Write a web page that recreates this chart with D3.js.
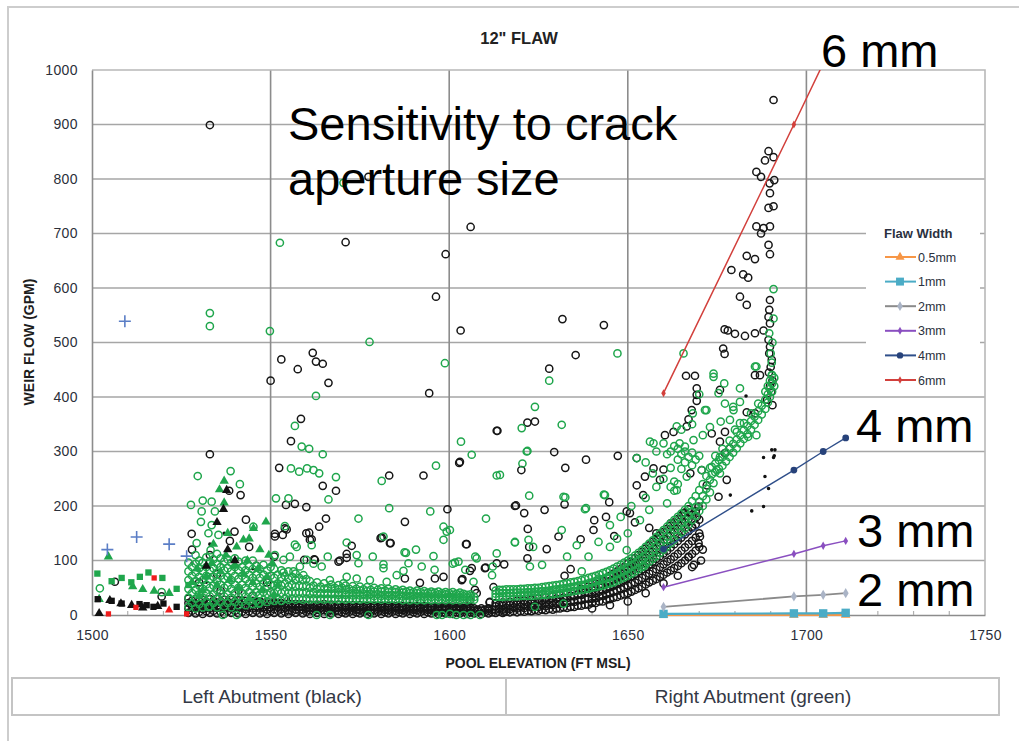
<!DOCTYPE html>
<html lang="en">
<head>
<meta charset="UTF-8">
<title>12" FLAW - Weir flow vs pool elevation</title>
<script src="https://d3js.org/d3.v7.min.js"></script>
<style>
  body { margin: 0; background: #fff; }
  svg { display: block; font-family: "Liberation Sans", Arial, sans-serif; }
</style>
</head>
<body>
<svg width="1019" height="741"></svg>
<script>
// ---- axis ticks ----
const xTicks = [1500, 1550, 1600, 1650, 1700, 1750];
const yTicks = [0, 100, 200, 300, 400, 500, 600, 700, 800, 900, 1000];

// ---- left abutment (black open circles) ----
const leftCircles = [
  [1533,899],[1571,684],[1599,662],[1606,712],[1596.3,584],[1603.2,522],[1577.4,804],
  [1553,469],[1550,430],[1557.6,451],[1561.8,481],[1562.7,465],[1564.6,461],[1566.2,426],[1558.5,360],
  [1555.7,319],[1533,295],[1552.4,270],[1564.6,237],[1568.3,228],[1554.3,202],[1556.8,204],[1560,198],
  [1594.4,407],[1613.3,338],[1602.8,279],[1592.8,256],[1583.2,256],[1599.5,194],[1587.6,171],[1618.4,200],
  [1580.8,141],[1583.6,132],[1572.7,127],[1604.9,130],[1613.3,95],[1569,98],[1571.3,105],[1603.5,64],
  [1610.2,87],[1605.8,81],[1598.4,70],[1587.6,67],[1538.4,228],[1541.6,220],[1543.1,175],[1539.9,153],
  [1527.9,149],[1538.6,136],[1563.6,162],[1554,159],[1551.2,149],[1553.4,147],[1560,150],[1561,138],
  [1565.5,177],[1559.4,101],[1562.4,101],[1607.2,46],[1611.4,24],[1551.2,144],[1554.5,157],[1560.8,151],
  [1561.5,139],[1581.1,142],[1583.4,132],[1571.3,112],[1569.4,100],[1562.2,102],[1551,107],[1591.8,59],[1596,67],
  [1631.7,543],[1643.3,532],[1635.4,477],[1628,452],[1621.9,353],[1624,355],[1613.5,338],[1603,281],
  [1629.4,299],[1632.5,270],[1638.3,285],[1647.2,292],[1620.2,266],[1618.7,201],[1621,187],[1626.7,193],
  [1632.3,203],[1644.8,207],[1649.7,190],[1643.9,180],[1640.6,174],[1622,158],[1630.6,144],[1636.8,139],
  [1640.4,156],[1646.2,145],[1604.7,130],[1622.4,125],[1627.3,121],[1621.9,104],[1615.4,93],[1610,86],
  [1606.3,86],[1603.7,66],[1607.7,40],[1634,84],[1632.3,72],[1612.4,51],[1611.3,23],[1615.4,6],[1605.8,27],
  [1637.4,46],[1640.7,52],[1643.2,64],[1647.2,70],[1651.2,95],[1652.5,238],
  [1690.8,945],[1689.4,851],[1688.4,834],[1690.8,840],[1686,813],[1687.3,804],[1689.7,792],[1691,798],
  [1689.8,774],[1689.4,747],[1690.8,750],[1686,713],[1687.3,700],[1688,710],[1689.8,713],[1689.4,679],
  [1689.8,662],[1683.3,659],[1685.6,653],[1679,633],[1682.3,625],[1683.7,619],[1681.4,584],[1683.3,569],
  [1689.8,578],[1689.6,560],[1689.4,547],[1689.8,535],[1677.1,524],[1678,522],[1680,516],[1682.8,512],
  [1685.6,517],[1688,522],[1676.7,489],[1677.1,479],[1689.4,505],[1689.8,492],[1689.6,480],[1690.3,468],
  [1666.3,439],[1668.8,439],[1685.6,440],[1687,440],[1690,455],[1689.5,445],[1690.5,430],[1689.8,420],
  [1690.2,410],[1689,395],[1690.5,385],
  [1669.3,416],[1669.3,404],[1669.3,393],[1667.9,376],[1667,359],[1666.5,346],[1662.8,336],[1660.4,330],
  [1675.8,413],[1683.3,372],[1685.6,370],[1673.5,333],[1677.2,336],[1675.8,318],[1678.6,306],[1677.2,297],
  [1652.5,288],[1657.2,269],[1660,267],[1654.8,254],[1659,248],[1654.3,220],[1675.4,217],[1677.7,248],
  [1672.1,238],[1667.5,260],[1670.7,266],[1665.6,187],[1669.3,180],[1670.2,144],[1669.8,132],[1667,107],
  [1668,162],[1669.8,199],[1650.6,187],[1652,170],[1656,160],[1671,120],[1670.5,100],[1668.5,92],
  [1650,25],[1655,40],[1660,58],[1664,72],[1668,88],[1645,18],[1640,12],[1658,150],[1662,168],
  [1506.4,61],[1519.5,34],[1530,60],[1535,75],[1541,45],[1546,90],[1549,60],[1533,110],[1544,125],
  [1528,120],[1536,45],[1545,35]
];

// dense black band: [elevation, [flows]]
const leftBand = [
  [1527,[4,12,22,30]],[1528,[8,17,26]],[1529,[3,13,21,29]],[1530,[6,16,25]],[1531,[2,11,20,28]],
  [1532,[7,15,24]],[1533,[4,12,21,29]],[1534,[8,17,26]],[1535,[3,13,22,30]],[1536,[6,16,25]],
  [1537,[2,11,20,28]],[1538,[7,15,24]],[1539,[4,12,21,28]],[1540,[8,17,25]],[1541,[3,13,22,27]],
  [1542,[6,16,24]],[1543,[2,11,19,26]],[1544,[7,15,23]],[1545,[4,12,20,26]],[1546,[8,16,23]],
  [1547,[3,12,19,25]],[1548,[6,15,22]],[1549,[2,10,18,24]],[1550,[7,14,21]],[1551,[4,11,18,23]],
  [1552,[8,15,21]],[1553,[3,11,17,22]],[1554,[6,13,20]],[1555,[2,9,16,21]],[1556,[7,13,19]],
  [1557,[4,10,16,20]],[1558,[8,14,19]],[1559,[3,10,15,20]],[1560,[6,12,18]],[1561,[2,9,14,19]],
  [1562,[7,12,17]],[1563,[4,10,15,19]],[1564,[8,13,18]],[1565,[2,9,15,20]],[1566,[6,12,17]],
  [1567,[3,9,15,19]],[1568,[7,12,17]],[1569,[2,8,14,19]],[1570,[5,11,16]],[1571,[3,9,14,18]],
  [1572,[6,11,16]],[1573,[2,8,13,18]],[1574,[5,10,15]],[1575,[3,9,14,18]],[1576,[6,11,16]],
  [1577,[2,8,13,17]],[1578,[5,10,15]],[1579,[3,9,14,17]],[1580,[6,11,15]],[1581,[2,8,13,17]],
  [1582,[5,10,15]],[1583,[3,9,13,17]],[1584,[6,11,15]],[1585,[2,8,13,16]],[1586,[5,10,14]],
  [1587,[3,9,13,16]],[1588,[6,11,15]],[1589,[2,8,12,16]],[1590,[5,10,14]],[1591,[3,9,13,16]],
  [1592,[6,11,14]],[1593,[2,8,12,16]],[1594,[5,10,14]],[1595,[3,9,13,15]],[1596,[6,10,14]],
  [1597,[2,8,12,15]],[1598,[5,10,14]],[1599,[3,9,12,15]],[1600,[6,10,14]],[1601,[2,8,12,15]],
  [1602,[5,10,13]],[1603,[3,8,12,15]],[1604,[6,10,13]],[1605,[2,8,12,14]],[1606,[5,9,13]],
  [1607,[3,8,12]],[1608,[6,10]],[1609,[2,8,12]],[1610,[5,10]],[1611,[3,8,12]],[1612,[5,10]],
  [1613,[4,10,16,22]],[1614,[6,12,19]],[1615,[4,10,17,23]],[1616,[6,13,20]],[1617,[5,11,18,24]],
  [1618,[7,14,21]],[1619,[5,12,19,26]],[1620,[7,15,22]],[1621,[6,13,20,27]],[1622,[8,16,23]],
  [1623,[7,14,21,28]],[1624,[9,17,25]],[1625,[8,15,22,30]],[1626,[10,18,26]],[1627,[9,16,24,32]],
  [1628,[11,19,28]],[1629,[10,18,26,34]],[1630,[12,21,30]],[1631,[12,20,28,37]],[1632,[14,23,32]],
  [1633,[13,22,31,40]],[1634,[15,25,35]],[1635,[15,24,34,44]],[1636,[17,27,38]],[1637,[17,27,37,48]],
  [1638,[19,30,41]],[1639,[19,30,41,52]],[1640,[22,30,38,46]],[1641,[22,31,40,50,57]],
  [1642,[25,34,43,52]],[1643,[25,35,45,55,62]],[1644,[28,38,48,58,68]],[1645,[29,40,51,62,72]],
  [1646,[32,43,54,65,76]],[1647,[33,45,57,69,80]],[1648,[36,48,60,72,84]],[1649,[38,51,64,77,88]],
  [1650,[40,54,68,82,94]],[1651,[43,57,71,85,98]],[1652,[46,60,75,90,104]],[1653,[49,64,80,95,110]],
  [1654,[52,68,84,100,116]],[1655,[56,72,88,105,122]],[1656,[60,76,93,110,128]],
  [1657,[63,80,98,116,134]],[1658,[66,84,103,122,140]],[1659,[70,88,108,128,146]],
  [1660,[74,93,113,133,152]],[1661,[78,98,118,138,158]],[1662,[82,102,124,145,164]],
  [1663,[86,107,130,152,170]],[1664,[90,112,136,158,176]],[1665,[95,118,142,164,182]],
  [1666,[100,124,148,170,188]],[1667,[106,130,154,176,194]],[1668,[112,136,160,184]],
  [1669,[118,142,166,190]],[1670,[125,150,175]]
];

// ---- right abutment (green open circles) ----
const rightCircles = [
  [1533,554],[1533,530],[1552.6,683],[1549.8,521],[1570.4,793],[1577.7,501],[1598.8,462],[1562.7,402],
  [1556.8,347],[1558.7,309],[1560.8,305],[1564.6,295],[1555.7,269],[1558,263],[1560.2,269],[1562,266],
  [1563.6,260],[1568.3,253],[1566.2,212],[1551.5,214],[1555,214],[1529.6,255],[1538.8,264],[1541.4,240],
  [1531,210],[1533.5,208],[1527.7,202],[1530.7,190],[1534.4,190],[1530.5,171],[1533.5,165],[1532.6,150],
  [1535.4,147],[1529.3,132],[1533.2,119],[1545.2,162],[1581.1,246],[1583.2,196],[1594.7,190],[1596.3,274],
  [1574.6,177],[1571.3,133],[1581.6,144],[1610.3,177],[1603.3,318],[1606.3,294],[1613.3,256],[1618.4,133],
  [1613.3,113],[1607.7,104],[1601.6,96],[1598.4,162],[1598.4,138],[1587.5,115],[1590.7,120],[1595.6,108],
  [1578.6,107],[1574.6,95],[1566,107],[1556.8,129],[1561.5,128],[1581.6,86],[1588.6,95],[1592.3,89],
  [1595.9,83],[1604.5,83],[1606.8,61],[1612.2,89],[1554,163],[1599.3,153],[1557.3,125],[1574.1,110],
  [1587.9,114],[1581.6,93],[1601,94],[1587.2,81],
  [1536.6,0],[1540.5,0],[1562.9,0],[1566.6,0],[1577.4,0],[1596.5,0],[1598,0],[1600.2,2],[1602,0],
  [1604,0],[1606,0],[1608.6,0],[1532.6,15],[1546.6,21],
  [1551.2,110],[1553.6,101],[1555.4,107],[1558.2,89],[1560.1,101],[1562,94],[1564.3,89],[1553.6,78],
  [1556.4,80],[1559.2,73],[1566.6,64],[1570.4,58],[1574.1,67],[1577.8,64],[1582.5,61],[1585.3,73],[1571.3,70],
  [1502.2,49],[1519.5,42],
  [1647.1,480],[1628,430],[1624,382],[1631.5,349],[1620.3,343],[1621.7,300],[1652.5,288],[1657.2,315],
  [1660,315],[1668.4,321],[1674,443],[1681.4,416],[1686,456],[1679.6,376],[1671.6,376],[1668.2,370],
  [1663.7,346],[1666,309],[1670.7,266],[1675.8,260],[1674,242],[1643.6,220],[1638.3,196],[1632,217],
  [1622.4,219],[1618.4,134],[1614.2,257],[1631.5,156],[1623.5,125],[1633,107],[1641.8,67],[1637.1,80],
  [1649.7,119],[1654.4,89],[1622.2,138],[1622.6,89],[1612,73],[1626,92],[1635.7,128],[1641.8,134],
  [1639,107],[1645,125],[1632,21],[1624,15],[1638,194],[1632.5,216],[1643.3,221],[1600.2,156],[1602.6,98],
  [1607.3,107],[1620.5,278],[1621.9,301],
  [1690.8,598],[1690.8,544],[1689.6,517],[1665.6,480],[1685.6,456],[1690.3,463],[1690.3,440],[1690,480],
  [1690.5,500],
  [1656.2,318],[1672,376],[1674,437],[1675.4,407],[1677.2,388],[1679.5,382],[1681.4,391],[1678.6,358],
  [1681.4,352],[1683.7,327],[1675.8,290],[1674.9,266],[1671,330],[1673,345],[1676,355],[1665,340],
  [1668,350],[1658,300],[1655,280],[1662,270],[1680,340],[1686,330],[1670,405],[1677,425],
  [1656,193],[1653.4,174],[1661,205],[1663.7,229],[1666.5,254],[1650,150],[1647,140],[1645,165],
  [1648,180],[1651,200],[1655,215],[1658,235],[1660,250],[1657,260],[1668,275],[1665,268],
  [1662,300],[1663,310],[1664,305],[1665,295],[1666,300],[1667,290],[1668,298],[1669,285],[1670,292],
  [1664,285],[1666,280],[1662,235],[1663,245],[1664,240],[1663,228],[1661,295],[1664.5,315]
];

// dense green bands: [elevation, [flows]]
const rightBand = [
  [1527,[15,32,48,64,80,96]],[1528,[22,40,56,72,88]],[1529,[12,30,46,62,78,94,110]],
  [1530,[20,38,54,70,86,100]],[1531,[14,32,48,64,80,96]],[1532,[24,40,56,72,88,106]],
  [1533,[16,34,50,66,82,98]],[1534,[22,38,54,70,86,102]],[1535,[14,30,46,62,78,94,112]],
  [1536,[24,40,56,72,88,104]],[1537,[16,34,50,66,82,98]],[1538,[22,38,54,70,86,102]],
  [1539,[14,32,48,64,80,96]],[1540,[24,40,56,72,88,104]],[1541,[18,34,50,66,82,98]],
  [1542,[24,40,56,72,88]],[1543,[18,34,50,66,82,100]],[1544,[26,42,58,74,90]],
  [1545,[20,36,52,68,84,100]],[1546,[26,42,58,74,90]],[1547,[22,38,52,68,84]],[1548,[28,42,58,74,92]],
  [1549,[24,38,52,66,82]],[1550,[28,42,56,72,88]],[1551,[26,40,54,68,84]],[1552,[30,44,58,74]],
  [1553,[26,40,54,68,82]],[1554,[30,44,58,72]],[1555,[28,40,52,66,80]],[1556,[30,42,56,70]],
  [1557,[28,40,52,64,76]],[1558,[30,42,54,68]],[1559,[28,40,52,64]],[1560,[30,42,54,66]],
  [1561,[28,38,50,62]],[1562,[30,42,54]],[1563,[28,38,48,60]],[1564,[30,40,52]],[1565,[28,38,48,58]],
  [1566,[30,40,50]],[1567,[28,38,48,56]],[1568,[30,40,50]],[1569,[28,37,47,55]],[1570,[30,40,50]],
  [1571,[28,37,46,54]],[1572,[30,39,48]],[1573,[28,36,45,53]],[1574,[30,39,48]],[1575,[28,36,45,52]],
  [1576,[30,38,47]],[1577,[28,36,44,51]],[1578,[30,38,46]],[1579,[28,35,43,50]],[1580,[30,38,46]],
  [1581,[28,35,43,49]],[1582,[30,37,45]],[1583,[28,35,42,48]],[1584,[30,37,44]],[1585,[28,35,42,47]],
  [1586,[30,37,44]],[1587,[27,34,41,46]],[1588,[29,36,43]],[1589,[27,34,40,45]],[1590,[29,36,42]],
  [1591,[27,33,40,45]],[1592,[29,35,42]],[1593,[27,33,39,44]],[1594,[29,35,41]],[1595,[27,33,39,43]],
  [1596,[29,35,41]],[1597,[27,33,38,43]],[1598,[29,35,40]],[1599,[27,32,38,42]],[1600,[29,34,40]],
  [1601,[27,32,37,42]],[1602,[29,34,39]],[1603,[27,32,37,41]],[1604,[29,34,39]],[1605,[27,32,37]],
  [1606,[29,34,38]],[1607,[28,33]],
  [1613,[33,39,45]],[1614,[33,40,46]],[1615,[33,40,46]],[1616,[34,40,47]],[1617,[34,40,47]],
  [1618,[34,41,47]],[1619,[34,41,47]],[1620,[35,41,48]],[1621,[35,41,48]],[1622,[35,42,49]],
  [1623,[35,42,49]],[1624,[36,43,50]],[1625,[36,43,50]],[1626,[37,44,51]],[1627,[37,44,52]],
  [1628,[38,45,53]],[1629,[38,46,54]],[1630,[39,47,55]],[1631,[40,48,56]],[1632,[41,49,57]],
  [1633,[42,50,58]],[1634,[43,51,60]],[1635,[44,52,61]],[1636,[45,54,62]],[1637,[46,55,64]],
  [1638,[47,56,66]],[1639,[48,58,68]],[1640,[50,60,70]],[1641,[51,62,72]],[1642,[53,64,74]],
  [1643,[54,66,77]],[1644,[56,68,79]],[1645,[58,70,82]],[1646,[60,73,85]],[1647,[63,76,89]],
  [1648,[66,79,92]],[1649,[69,82,96]],[1650,[72,86,100]],[1651,[76,90,104]],[1652,[80,94,109]],
  [1653,[84,99,114]],[1654,[88,104,119]],[1655,[93,109,125]],[1656,[98,114,131]],[1657,[103,120,137]],
  [1658,[108,126,143]],[1659,[114,132,150]],[1660,[120,138,156]],[1661,[126,144,162]],
  [1662,[132,150,168]],[1663,[138,156,174]],[1664,[145,162,180]],[1665,[152,168,186]],
  [1666,[159,175,193]],[1667,[166,182,200]],[1668,[174,190,209]],[1669,[182,198,218]],
  [1670,[191,208,229]],[1671,[200,218,240]],[1672,[212,232,255]],[1673,[225,248,270]],
  [1673.5,[258,272]],[1674.5,[262,278,292]],[1675.5,[268,284]],[1676.5,[274,290,305]],
  [1677.5,[282,298]],[1678.5,[290,306,320]],[1679.5,[298,314]],[1680.5,[306,322,336]],
  [1681.5,[315,330]],[1682.5,[323,339,352]],[1683.5,[332,347]],[1684.5,[340,356,370]],
  [1685.5,[349,364]],[1686.5,[358,374,388]],[1687.5,[368,384]],[1688.5,[378,395,410]],
  [1689.2,[390,405,420]],[1689.8,[400,415,430]],[1690.4,[410,425,440]],[1691,[420,435]]
];

// ---- other scatter series ----
const greenTriangles = [
  [1504.6,107],[1511.4,52],[1514.2,47],[1517.4,44],[1521.6,40],[1502,29],
  [1537,246],[1535.7,230],[1537,206],[1548.7,171],[1545.2,159],[1542.4,138],
  [1528,60],[1529.5,85],[1531,45],[1532,70],[1533.5,95],[1535,55],[1536,80],[1537.5,110],[1538.5,65],
  [1540,90],[1541,50],[1542.5,75],[1543.5,100],[1545,60],[1546.5,85],[1547.5,45],[1549,70],[1550.5,95],
  [1552,55],[1534,130],[1538,150],[1540.5,125],[1544,140],[1547,120],[1549.5,110],[1530,35],[1544,30],[1551,38]
];
const greenSquares = [[1501.5,76],[1505.5,62],[1508.3,68],[1513.4,70],[1515.8,78],[1519.7,68],[1523.7,48],[1511,60],[1527,55]];
const blackTriangles = [[1502,3],[1505,27],[1508.1,21],[1511.1,18],[1514.2,13],[1518.4,16],[1536.8,194],[1537.7,229],[1535,170],[1538,120],[1540,100],[1532,90]];
const blackSquares = [[1501.6,29],[1505.5,26],[1508.3,21],[1513.3,20],[1515.3,18],[1517.2,15],[1520,21],[1523.7,15]];
const redSquares = [[1517.4,68],[1504.6,2],[1512.3,14],[1526.5,2]];
const redTriangles = [[1521.6,9]];
const bluePlus = [[1504.3,120],[1509.2,539],[1512.5,143],[1521.6,130],[1526.5,108]];
const blackDots = [
  [1678.7,220],[1683.1,402],[1690.3,303],[1691.2,303],[1688,289],[1690.8,289],[1688.4,254],[1689.4,232],
  [1688,199],[1684.7,191],[1669.8,95],[1691,292],[1537,150],[1533,130],[1539,100],[1545,85],[1532,60],
  [1528,95],[1548,45],[1555,30],[1600,40],[1586,45],[1570,35]
];

// ---- flaw width model lines ----
const flawNames = ["0.5mm", "1mm", "2mm", "3mm", "4mm", "6mm"];
const flaw05 = [[1660,0],[1696.5,0],[1704.7,0],[1711,0]];
const flaw1 = [[1660,2],[1696.5,3],[1704.7,3],[1711,4]];
const flaw2 = [[1660,15],[1696.5,34],[1704.7,37],[1711,40]];
const flaw3 = [[1660,51],[1696.5,112],[1704.7,127],[1711,136]];
const flaw4 = [[1660,121],[1696.5,266],[1704.7,300],[1711,325]];
const flaw6 = [[1660,407],[1696.5,900],[1704.7,1012],[1711,1098]];

const GREEN = "#1fa64c";
const BLACK = "#161616";

const svg = d3.select("svg");
const x = d3.scaleLinear().domain([1500, 1750]).range([92, 985]);
const y = d3.scaleLinear().domain([0, 1000]).range([615, 70]);

// outer frame
svg.append("path").attr("d", "M8,741V7H1019").attr("fill", "none").attr("stroke", "#cdcdcd").attr("stroke-width", 2);

// title
svg.append("text").attr("x", 519).attr("y", 44).attr("text-anchor", "middle")
  .style("font-size", "16.5px").style("font-weight", "bold").attr("fill", "#222").text('12" FLAW');

// gridlines
svg.append("g").selectAll("line").data(yTicks.slice(1, -1)).join("line")
  .attr("x1", x(1500)).attr("x2", x(1750)).attr("y1", d => y(d)).attr("y2", d => y(d))
  .attr("stroke", "#a6a6a6").attr("stroke-width", 1.6);
svg.append("g").selectAll("line").data(xTicks.slice(1, -1)).join("line")
  .attr("x1", d => x(d)).attr("x2", d => x(d)).attr("y1", y(0)).attr("y2", y(1000))
  .attr("stroke", "#8c8c8c").attr("stroke-width", 1.6);
// plot border
svg.append("path").attr("d", `M${x(1500)},${y(1000)}H${x(1750)}V${y(0)}`)
  .attr("fill", "none").attr("stroke", "#b8b8b8").attr("stroke-width", 1.6);

// axes
const yAxis = svg.append("g").attr("transform", `translate(${x(1500)},0)`)
  .call(d3.axisLeft(y).tickValues(yTicks).tickFormat(d3.format("d")).tickSize(0).tickPadding(14));
const xAxis = svg.append("g").attr("transform", `translate(0,${y(0)})`)
  .call(d3.axisBottom(x).tickValues(xTicks).tickFormat(d3.format("d")).tickSize(0).tickPadding(15));
[yAxis, xAxis].forEach(a => {
  a.select(".domain").attr("stroke", "#8c8c8c").attr("stroke-width", 1.6);
  a.selectAll("text").style("font-size", "14px").style("font-family", "Liberation Sans, Arial, sans-serif")
    .style("letter-spacing", "0.4px").attr("fill", "#2b2f3a");
});
// minor ticks along the x axis
svg.append("g").selectAll("line").data(x.ticks(25).filter(d => !xTicks.includes(d))).join("line")
  .attr("x1", d => x(d)).attr("x2", d => x(d)).attr("y1", y(0)).attr("y2", y(0) - 4)
  .attr("stroke", "#b0b0b0").attr("stroke-width", 1.2);

// axis titles
svg.append("text").attr("transform", `translate(34,342) rotate(-90)`).attr("text-anchor", "middle")
  .style("font-size", "14px").style("font-weight", "bold").attr("fill", "#1e1e1e").text("WEIR FLOW (GPM)");
svg.append("text").attr("x", 538).attr("y", 668).attr("text-anchor", "middle")
  .style("font-size", "14px").style("font-weight", "bold").attr("fill", "#1e1e1e").text("POOL ELEVATION (FT MSL)");

const expand = band => band.flatMap(([xv, ys]) => ys.map(v => [xv, v]));
const marks = svg.append("g");

function circles(data, color) {
  marks.append("g").selectAll("circle").data(data).join("circle")
    .attr("cx", d => x(d[0])).attr("cy", d => y(d[1])).attr("r", 3.6)
    .attr("fill", "none").attr("stroke", color).attr("stroke-width", 1.5);
}
function symbols(data, type, size, color) {
  marks.append("g").selectAll("path").data(data).join("path")
    .attr("transform", d => `translate(${x(d[0])},${y(d[1])})`)
    .attr("d", d3.symbol().type(type).size(size)).attr("fill", color);
}

circles(leftCircles, BLACK);
circles(expand(leftBand), BLACK);
symbols(blackDots, d3.symbolCircle, 10, "#111");
circles(expand(rightBand), GREEN);
circles(rightCircles, GREEN);
symbols(greenTriangles, d3.symbolTriangle, 38, GREEN);
symbols(greenSquares, d3.symbolSquare, 40, GREEN);
symbols(blackTriangles, d3.symbolTriangle, 38, "#111");
symbols(blackSquares, d3.symbolSquare, 40, "#111");
symbols(redSquares, d3.symbolSquare, 28, "#ee1c1c");
symbols(redTriangles, d3.symbolTriangle, 30, "#ee1c1c");
marks.append("g").selectAll("path").data(bluePlus).join("path")
  .attr("transform", d => `translate(${x(d[0])},${y(d[1])})`)
  .attr("d", "M-6,0H6M0,-6V6").attr("stroke", "#5b7ec6").attr("stroke-width", 1.6);

// model lines, clipped to the plot area
svg.append("clipPath").attr("id", "plotclip").append("rect")
  .attr("x", x(1500)).attr("y", y(1000)).attr("width", x(1750) - x(1500)).attr("height", y(0) - y(1000) + 6);

const flawSeries = [
  {name: flawNames[0], data: flaw05, color: "#f79646", sym: d3.symbolTriangle, size: 40, mark: "#f79646", width: 2},
  {name: flawNames[1], data: flaw1, color: "#4bacc6", sym: d3.symbolSquare, size: 70, mark: "#4bacc6", width: 2.2},
  {name: flawNames[2], data: flaw2, color: "#8a8a8a", sym: d3.symbolDiamond, size: 30, mark: "#aab4c6", width: 1.8},
  {name: flawNames[3], data: flaw3, color: "#8a4fc0", sym: d3.symbolDiamond, size: 20, mark: "#8a4fc0", width: 1.5},
  {name: flawNames[4], data: flaw4, color: "#2f4f8a", sym: d3.symbolCircle, size: 36, mark: "#27427a", width: 1.4},
  {name: flawNames[5], data: flaw6, color: "#d2403c", sym: d3.symbolDiamond, size: 18, mark: "#d2403c", width: 1.5}
];
const line = d3.line().x(d => x(d[0])).y(d => y(d[1]));
const lines = svg.append("g").attr("clip-path", "url(#plotclip)");
flawSeries.forEach(s => {
  lines.append("path").datum(s.data).attr("d", line).attr("fill", "none")
    .attr("stroke", s.color).attr("stroke-width", s.width);
  lines.append("g").selectAll("path").data(s.data).join("path")
    .attr("transform", d => `translate(${x(d[0])},${y(d[1])})`)
    .attr("d", d3.symbol().type(s.sym).size(s.size)).attr("fill", s.mark);
});

// legend
const lg = svg.append("g");
lg.append("rect").attr("x", 866).attr("y", 216).attr("width", 114).attr("height", 176).attr("fill", "#fff");
lg.append("text").attr("x", 884).attr("y", 238).style("font-size", "13px").style("font-weight", "bold")
  .attr("fill", "#2b3140").text("Flaw Width");
flawSeries.forEach((s, i) => {
  const ly = 257 + i * 24.6;
  lg.append("line").attr("x1", 885).attr("x2", 916).attr("y1", ly).attr("y2", ly)
    .attr("stroke", s.color).attr("stroke-width", 2);
  lg.append("path").attr("transform", `translate(900,${ly})`)
    .attr("d", d3.symbol().type(s.sym).size(s.size * 0.9)).attr("fill", s.mark);
  lg.append("text").attr("x", 918).attr("y", ly + 4.5).style("font-size", "12.5px")
    .attr("fill", "#2b3140").text(s.name);
});

// annotations
const big = [
  {t: "Sensitivity to crack", x: 288, y: 140},
  {t: "aperture size", x: 288, y: 195},
  {t: "6 mm", x: 821, y: 67},
  {t: "4 mm", x: 856, y: 442},
  {t: "3 mm", x: 857, y: 547},
  {t: "2 mm", x: 857, y: 606}
];
svg.append("g").selectAll("text").data(big).join("text")
  .attr("x", d => d.x).attr("y", d => d.y).text(d => d.t)
  .style("font-size", "47px").attr("fill", "#000");

// bottom table
svg.append("rect").attr("x", 12).attr("y", 678).attr("width", 987).attr("height", 37)
  .attr("fill", "none").attr("stroke", "#c4c4c4").attr("stroke-width", 2);
svg.append("line").attr("x1", 506).attr("x2", 506).attr("y1", 678).attr("y2", 715)
  .attr("stroke", "#c4c4c4").attr("stroke-width", 2);
svg.append("text").attr("x", 272).attr("y", 703).attr("text-anchor", "middle")
  .style("font-size", "19px").attr("fill", "#333845").text("Left Abutment (black)");
svg.append("text").attr("x", 753).attr("y", 703).attr("text-anchor", "middle")
  .style("font-size", "19px").attr("fill", "#333845").text("Right Abutment (green)");
</script>
</body>
</html>
